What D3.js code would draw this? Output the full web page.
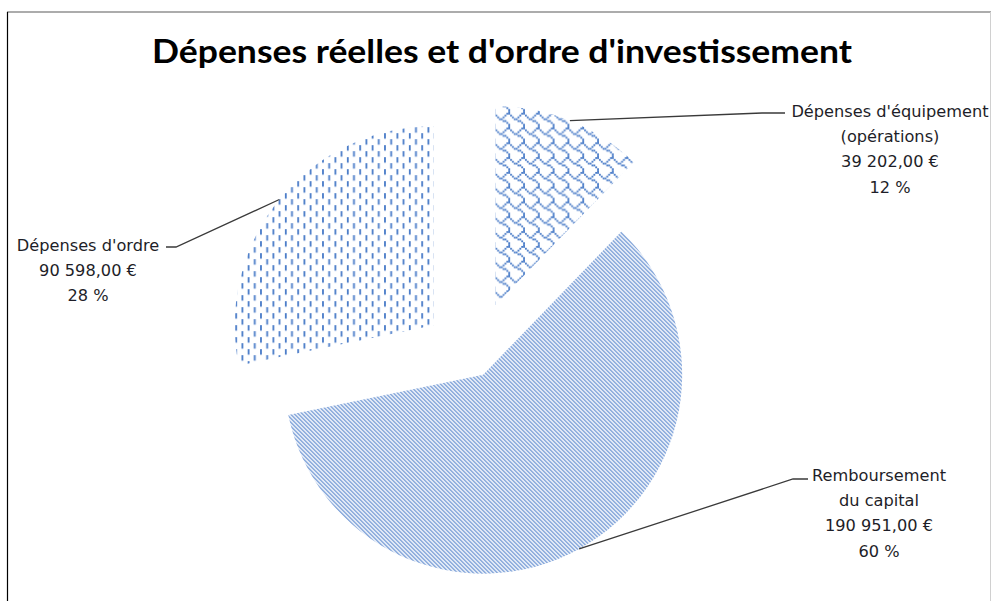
<!DOCTYPE html>
<html>
<head>
<meta charset="utf-8">
<script src="https://cdn.jsdelivr.net/npm/d3@7"></script>
<style>
  html, body { margin: 0; padding: 0; background: #ffffff; }
  svg { display: block; }
</style>
</head>
<body>
<svg id="chart" width="992" height="601"></svg>
<script>
// ---------- DATA ----------
const title = "Dépenses réelles et d'ordre d'investissement";
const categories = ["Dépenses d'équipement (opérations)", "Remboursement du capital", "Dépenses d'ordre"];
const labelLines = [["Dépenses d'équipement", "(opérations)"], ["Remboursement", "du capital"], ["Dépenses d'ordre"]];
const values = [39202, 190951, 90598];

// ---------- LAYOUT ----------
const W = 992, H = 601;
const cx = 474, cy = 358, R = 199;
const explode = [57, 19, 52];
const blue = "#4a7cc8";
const textColor = "#1e1e28";
const labelFont = "'DejaVu Sans', sans-serif";
const labelSize = 16.2;
const lineGap = 25.3;
// label placement: centre x, first-line centre y, leader elbow & end
const labelLayout = [
  { x: 890, y: 111, elbow: [762, 113], end: [785, 113] },
  { x: 879, y: 475, elbow: [793, 479], end: [808, 479] },
  { x: 88,  y: 245, elbow: [176, 247], end: [166, 247] }
];

const svg = d3.select("#chart");
const defs = svg.append("defs");

// Pattern 1: shingle (équipement)
const shingleBits = [0x03, 0x84, 0x48, 0x30, 0x0c, 0x02, 0x01, 0x01];
const s = 1.85;
const p1 = defs.append("pattern").attr("id", "pat0").attr("patternUnits", "userSpaceOnUse")
  .attr("width", 8 * s).attr("height", 8 * s);
shingleBits.forEach((b, row) => {
  for (let col = 0; col < 8; col++) {
    if (b & (0x80 >> col)) {
      p1.append("rect").attr("x", col * s).attr("y", row * s).attr("width", s).attr("height", s).attr("fill", blue);
    }
  }
});

// Pattern 2: downward diagonal (remboursement)
const p2 = defs.append("pattern").attr("id", "pat1").attr("patternUnits", "userSpaceOnUse")
  .attr("width", 4).attr("height", 4);
p2.append("path").attr("d", "M-1,-1 L5,5 M-1,3 L1,5 M3,-1 L5,1")
  .attr("stroke", blue).attr("stroke-width", 1.1).attr("fill", "none");

// Pattern 3: dashed vertical (ordre)
const p3 = defs.append("pattern").attr("id", "pat2").attr("patternUnits", "userSpaceOnUse")
  .attr("width", 12.4).attr("height", 12);
p3.append("rect").attr("x", 0).attr("y", 0).attr("width", 1.8).attr("height", 5.5).attr("fill", blue);
p3.append("rect").attr("x", 6.2).attr("y", 6).attr("width", 1.8).attr("height", 5.5).attr("fill", blue);

// Frame
svg.append("line").attr("x1", 7).attr("y1", 12).attr("x2", 991).attr("y2", 12).attr("stroke", "#5a5a5a").attr("stroke-width", 1.2);
svg.append("line").attr("x1", 7.5).attr("y1", 12).attr("x2", 7.5).attr("y2", H).attr("stroke", "#000").attr("stroke-width", 1.2);
svg.append("line").attr("x1", 990.5).attr("y1", 12).attr("x2", 990.5).attr("y2", H).attr("stroke", "#d0d0d0").attr("stroke-width", 1);

// Title
const t = svg.append("text").attr("x", 502).attr("y", 63).attr("text-anchor", "middle")
  .attr("font-family", "Lato, 'Open Sans', sans-serif").attr("font-weight", "bold")
  .attr("font-size", 33).attr("fill", "#000")
  .attr("textLength", 700).attr("lengthAdjust", "spacingAndGlyphs").text(title);

// Pie
const total = d3.sum(values);
const pie = d3.pie().sort(null).value(d => d).startAngle(0).endAngle(2 * Math.PI);
const arcs = pie(values);
const arc = d3.arc().innerRadius(0).outerRadius(R);

const fr = d3.formatLocale({ decimal: ",", thousands: "\u00a0", grouping: [3], currency: ["", "\u00a0€"] });
const fmtMoney = fr.format("$,.2f");

const g = svg.append("g").attr("transform", `translate(${cx},${cy})`);
arcs.forEach((a, i) => {
  const mid = (a.startAngle + a.endAngle) / 2;
  const ox = Math.sin(mid) * explode[i], oy = -Math.cos(mid) * explode[i];
  g.append("path").attr("d", arc(a)).attr("transform", `translate(${ox},${oy})`)
    .attr("fill", `url(#pat${i})`);

  // leader line
  const sx = cx + ox + Math.sin(mid) * R, sy = cy + oy - Math.cos(mid) * R;
  const L = labelLayout[i];
  svg.append("polyline")
    .attr("points", [[sx, sy], L.elbow, L.end].map(p => p.join(",")).join(" "))
    .attr("fill", "none").attr("stroke", "#3a3a3a").attr("stroke-width", 1.3);

  // label
  const lines = labelLines[i].concat([fmtMoney(values[i]), Math.round(values[i] / total * 100) + "\u00a0%"]);
  const txt = svg.append("text").attr("text-anchor", "middle")
    .attr("font-family", labelFont).attr("font-size", labelSize).attr("fill", textColor);
  lines.forEach((ln, k) => {
    txt.append("tspan").attr("x", L.x).attr("y", L.y + k * lineGap).attr("dy", "0.35em").text(ln);
  });
});
</script>
</body>
</html>
